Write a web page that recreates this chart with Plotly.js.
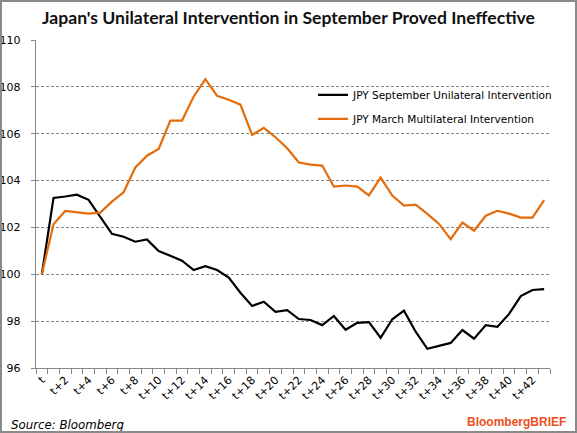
<!DOCTYPE html>
<html>
<head>
<meta charset="utf-8">
<script src="https://cdn.plot.ly/plotly-3.0.1.min.js"></script>
<style>
html,body{margin:0;padding:0;background:#fff;}
#wrap{position:relative;width:577px;height:433px;}
#chart{width:577px;height:433px;}
#frame{position:absolute;left:0;top:0;width:577px;height:433px;box-sizing:border-box;border:2px solid #8a8a8a;pointer-events:none;}
</style>
</head>
<body>
<div id="wrap"><div id="chart"></div><div id="frame"></div></div>
<script>
const categories = ['t','t+1','t+2','t+3','t+4','t+5','t+6','t+7','t+8','t+9','t+10','t+11','t+12','t+13','t+14','t+15','t+16','t+17','t+18','t+19','t+20','t+21','t+22','t+23','t+24','t+25','t+26','t+27','t+28','t+29','t+30','t+31','t+32','t+33','t+34','t+35','t+36','t+37','t+38','t+39','t+40','t+41','t+42','t+43'];

const septemberUnilateral = [100.00,103.26,103.32,103.40,103.18,102.46,101.73,101.60,101.39,101.49,100.99,100.79,100.58,100.18,100.35,100.18,99.86,99.21,98.65,98.83,98.40,98.47,98.09,98.05,97.83,98.22,97.63,97.93,97.96,97.29,98.08,98.45,97.55,96.82,96.94,97.07,97.62,97.25,97.83,97.76,98.31,99.07,99.33,99.37];

const marchMultilateral = [100.00,102.14,102.70,102.63,102.59,102.63,103.10,103.50,104.56,105.06,105.35,106.56,106.56,107.59,108.33,107.62,107.45,107.24,105.95,106.25,105.85,105.38,104.77,104.68,104.64,103.74,103.79,103.74,103.37,104.13,103.36,102.93,102.97,102.58,102.15,101.50,102.21,101.86,102.50,102.71,102.59,102.42,102.42,103.17];

const seriesNames = ['JPY September Unilateral Intervention','JPY March Multilateral Intervention'];
const tickLabels = categories.map((c,i) => i % 2 === 0 ? c : '');
const yTicks = [96,98,100,102,104,106,108,110];

const axisGray = '#868686';
const traces = [
  {x: categories, y: septemberUnilateral, name: seriesNames[0], type:'scatter', mode:'lines',
   line:{color:'#000000', width:2.2}, legendgroup:'a'},
  {x: categories, y: marchMultilateral, name: seriesNames[1], type:'scatter', mode:'lines',
   line:{color:'#E46C0A', width:2.2}, legendgroup:'b'}
];

const layout = {
  width:577, height:433,
  margin:{l:36, r:27, t:40, b:65, pad:0},
  paper_bgcolor:'#ffffff', plot_bgcolor:'#ffffff',
  font:{family:'DejaVu Sans, Verdana, sans-serif', size:10, color:'#000'},
  title:{text:"Japan's Unilateral Intervention in September Proved Ineffective",
         font:{family:'Lato, Calibri, sans-serif', size:17.6, color:'#111', weight:'bold'},
         x:0.5, xanchor:'center', y:0.958, yanchor:'middle'},
  xaxis:{type:'category', categoryorder:'array', categoryarray: categories,
         range:[-0.5, categories.length-0.5],
         tickmode:'array', tickvals: categories, ticktext: tickLabels,
         tickson:'boundaries', ticks:'outside', ticklen:5, tickcolor:axisGray, tickwidth:1,
         tickangle:-45, tickfont:{size:11, family:'DejaVu Sans, Verdana, sans-serif'},
         showline:true, linecolor:axisGray, linewidth:1.3,
         showgrid:false, zeroline:false, fixedrange:true},
  yaxis:{range:[96,110], tickmode:'array', tickvals:yTicks, ticktext:yTicks.map(String),
         ticks:'outside', ticklen:4, tickcolor:axisGray, tickwidth:1,
         ticklabelstandoff:8,
         tickfont:{size:11, family:'DejaVu Sans, Verdana, sans-serif'},
         showline:true, linecolor:axisGray, linewidth:1.3,
         showgrid:true, gridcolor:axisGray, gridwidth:1, griddash:'3px,2px',
         zeroline:false, fixedrange:true},
  showlegend:true,
  legend:{x:0.539, y:0.877, xanchor:'left', yanchor:'top', bgcolor:'rgba(0,0,0,0)',
          font:{size:10.5, family:'DejaVu Sans, Verdana, sans-serif', color:'#000'},
          tracegroupgap:5, traceorder:'grouped'},
  annotations:[
    {text:'Source: Bloomberg', xref:'paper', yref:'paper', x:-0.052, y:-0.174,
     xanchor:'left', yanchor:'middle', showarrow:false,
     font:{family:'DejaVu Sans, Verdana, sans-serif', size:11.8, color:'#000', style:'italic'}},
    {text:'BloombergBRIEF', xref:'paper', yref:'paper', x:1.035, y:-0.164,
     xanchor:'right', yanchor:'middle', showarrow:false,
     font:{family:'Liberation Sans, Arial, sans-serif', size:12, color:'#F04E23', weight:'bold'}}
  ]
};

Plotly.newPlot('chart', traces, layout, {displayModeBar:false, staticPlot:true});
</script>
</body>
</html>
